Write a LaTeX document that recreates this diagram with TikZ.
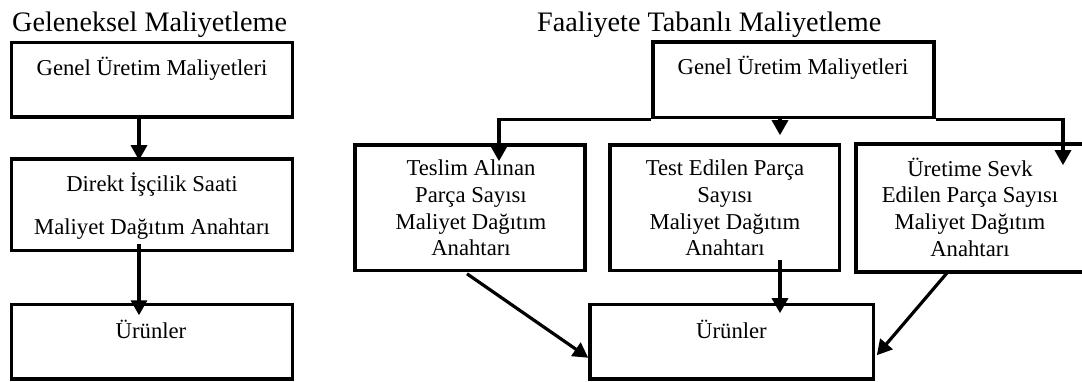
\documentclass[tikz,border=0pt]{standalone}
\usepackage{fontspec}
\setmainfont{Liberation Serif}
\usetikzlibrary{arrows.meta}
\tikzset{
  box/.style={draw=black, line width=3.6pt, rectangle, inner sep=0pt, fill=none},
  txt/.style={inner sep=0pt, align=center, font=\fontsize{22.7}{27}\selectfont},
  ttl/.style={inner sep=0pt, anchor=base west, font=\fontsize{28.2}{32}\selectfont},
  arr/.style={line width=3.2pt, -{Triangle[width=16pt,length=15pt]}},
  ln/.style={line width=3.2pt}
}
\begin{document}
\begin{tikzpicture}[x=1pt,y=-1pt]
\fill[white] (0,0) rectangle (1082,382);
\clip (0,0) rectangle (1082,382);
% titles
\node[ttl] (t1) at (12,32) {Geleneksel Maliyetleme};
\node[ttl] (t2) at (537,32) {Faaliyete Tabanlı Maliyetleme};
% left column boxes
\node[box, minimum width=281pt, minimum height=74.5pt] (L1) at (152,79.75) {};
\node[box, minimum width=281pt, minimum height=91.5pt] (L2) at (152,204.75) {};
\node[box, minimum width=281pt, minimum height=74.7pt] (L3) at (152,341.7) {};
\node[txt, anchor=base] (L1t) at (152,76) {Genel Üretim Maliyetleri};
\node[txt, anchor=base] (L2t) at (152,235) {Direkt İşçilik Saati\\[16pt]Maliyet Dağıtım Anahtarı};
\node[txt, anchor=base] (L3t) at (151,338) {Ürünler};
% right boxes
\node[box, minimum width=281pt, minimum height=75.5pt] (RT) at (793.5,79.75) {};
\node[box, minimum width=230pt, minimum height=125.5pt] (T1) at (470,207.75) {};
\node[box, minimum width=229.5pt, minimum height=125.5pt] (T2) at (724.75,207.75) {};
\node[box, minimum width=239pt, minimum height=128pt] (T3) at (975.5,208) {};
\node[box, minimum width=283.5pt, minimum height=74.5pt] (U) at (731.75,341.75) {};
\node[txt, anchor=base] (RTt) at (793,75) {Genel Üretim Maliyetleri};
\node[txt, anchor=base] (T1t) at (471,256) {Teslim Alınan\\Parça Sayısı\\Maliyet Dağıtım\\Anahtarı};
\node[txt, anchor=base] (T2t) at (725,256) {Test Edilen Parça\\Sayısı\\Maliyet Dağıtım\\Anahtarı};
\node[txt, anchor=base] (T3t) at (970,257) {Üretime Sevk\\Edilen Parça Sayısı\\Maliyet Dağıtım\\Anahtarı};
\node[txt, anchor=base] (Ut) at (731.5,338) {Ürünler};
% left arrows
\draw[arr] ([xshift=-13pt]L1.south) -- ([xshift=-13pt,yshift=-3pt]L2.north);
\draw[arr] ([xshift=-13pt,yshift=8.5pt]L2.south) -- ([xshift=-13pt,yshift=-12.7pt]L3.north);
% right arrows
\draw[arr] (RT.south west) -| ([xshift=29pt,yshift=-18pt]T1.north);
\draw[arr] ([xshift=-13.5pt]RT.south) -- ([xshift=55.25pt,yshift=8pt]T2.north);
\draw[arr] (RT.south east) -| ([xshift=87.5pt,yshift=-23pt]T3.north);
\draw[arr] ([xshift=-3pt,yshift=-1.5pt]T1.south) -- ([yshift=-16pt]U.west);
\draw[arr] ([xshift=55.25pt,yshift=12.5pt]T2.south) -- ([xshift=48.25pt,yshift=-10.5pt]U.north);
\draw[arr] ([xshift=-27.5pt,yshift=2pt]T3.south) -- ([xshift=1.5pt,yshift=-13.5pt]U.east);
\end{tikzpicture}
\end{document}
